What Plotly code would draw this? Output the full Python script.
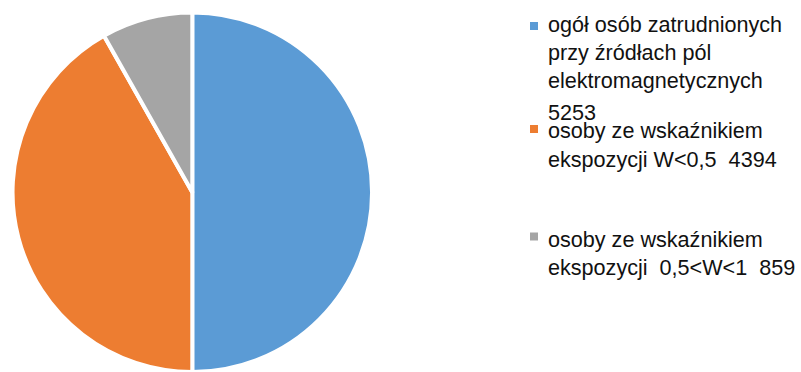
import plotly.graph_objects as go

# Employee counts by exposure group
labels = [
    "ogół osób zatrudnionych przy źródłach pól elektromagnetycznych",
    "osoby ze wskaźnikiem ekspozycji W<0,5",
    "osoby ze wskaźnikiem ekspozycji  0,5<W<1",
]
legend_lines = [
    ["ogół osób zatrudnionych", "przy źródłach pól", "elektromagnetycznych"],
    ["osoby ze wskaźnikiem", "ekspozycji W<0,5 "],
    ["osoby ze wskaźnikiem", "ekspozycji  0,5<W<1 "],
]
values = [5253, 4394, 859]
colors = ["#5B9BD5", "#ED7D31", "#A5A5A5"]

W, H = 801, 372

fig = go.Figure(
    go.Pie(
        labels=labels,
        values=values,
        sort=False,
        direction="clockwise",
        rotation=0,
        textinfo="none",
        hoverinfo="label+value",
        marker=dict(colors=colors, line=dict(color="white", width=4)),
        domain=dict(x=[12.3 / W, 372.3 / W], y=[0, 359.5 / H]),
        showlegend=False,
    )
)

# Legend drawn as text lines with colour swatches
text_font = dict(family="Liberation Sans, Arial, sans-serif", size=21.6, color="#111111")
baselines = [
    [31.7, 60, 88, 120],
    [138, 167],
    [246.7, 275],
]
swatch_centres = [26, 129, 236.5]

annotations = []
shapes = []
for i, (lines, val, col) in enumerate(zip(legend_lines, values, colors)):
    if i == 0:
        txt_lines = lines + [str(val)]
    else:
        txt_lines = lines[:-1] + [lines[-1] + " " + str(val)]
    for j, ln in enumerate(txt_lines):
        yc = baselines[i][j] - 7.5
        annotations.append(
            dict(
                x=546 / W, y=1 - yc / H, xref="paper", yref="paper",
                xanchor="left", yanchor="middle", showarrow=False,
                text=ln, font=text_font,
            )
        )
    sc = swatch_centres[i]
    shapes.append(
        dict(
            type="rect", xref="paper", yref="paper",
            x0=530 / W, x1=538 / W, y0=1 - (sc + 4) / H, y1=1 - (sc - 4) / H,
            fillcolor=col, line=dict(width=0),
        )
    )

fig.update_layout(
    width=W, height=H,
    margin=dict(l=0, r=0, t=0, b=0),
    paper_bgcolor="white", plot_bgcolor="white",
    annotations=annotations, shapes=shapes,
)

fig.write_html("out.html")
